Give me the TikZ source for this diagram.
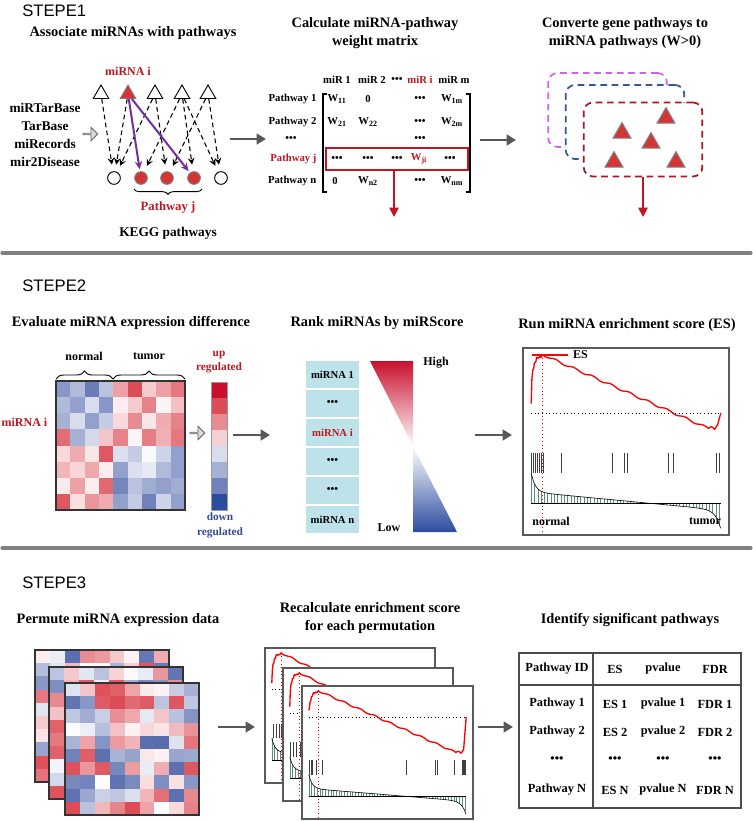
\documentclass[tikz,border=0pt]{standalone}
\usepackage{fontspec}
\setmainfont{Liberation Serif}
\newfontfamily\stepfont{Liberation Sans}
\usetikzlibrary{positioning,arrows.meta,shapes.geometric,shapes.arrows,decorations.pathreplacing}
\definecolor{mred}{RGB}{192,22,34}
\definecolor{mblue}{RGB}{52,74,150}
\definecolor{hmred}{RGB}{214,46,58}
\definecolor{hmblue}{RGB}{58,82,160}
\definecolor{cbtop}{RGB}{200,16,46}
\definecolor{cbbot}{RGB}{44,76,158}
\definecolor{argray}{RGB}{88,88,88}
\definecolor{sepgray}{RGB}{128,128,128}
\definecolor{mpurple}{RGB}{112,48,160}
\definecolor{rankcyan}{RGB}{190,226,233}
\definecolor{hatchgr}{RGB}{92,140,126}
\definecolor{gpurple}{RGB}{206,98,234}
\definecolor{gblue}{RGB}{50,90,140}
\definecolor{gred}{RGB}{176,20,30}
\definecolor{trired}{RGB}{212,52,52}

\newcommand{\ddd}{\textbullet\textbullet\textbullet}
% one heatmap cell: x, y, w, h, value (-100..100)
\newcommand{\hmcell}[5]{%
  \pgfmathtruncatemacro\hmabs{abs(#5)}%
  \ifnum#5<0 \def\hmbase{hmblue}\else\def\hmbase{hmred}\fi
  \fill[fill=\hmbase!\hmabs!white] ({#1},{#2}) rectangle ++({#3},{#4});}
% enrichment plot in a unit box: hits, zero line, lowest point
\newcommand{\esplot}[3]{%
  \draw[hatch] foreach \u in {0.04,0.056,...,0.96} {(\u,0.83) -- (\u,{metr(\u)})};
  \draw[line width=0.5pt] (0.04,0.83) -- (0.96,0.83);
  \draw[line width=0.45pt] plot[domain=0.04:0.96,samples=90] (\x,{metr(\x)});
  \foreach \h in {#1} \draw[black!75,line width=0.6pt] (\h,0.56) -- (\h,0.67);
  \draw[dotted,line width=0.7pt] (0.04,#2) -- (0.96,#2);
  \draw[escurve] (0.04,{#2-0.05}) -- (0.043,0.17) -- (0.047,0.12) -- (0.052,0.11) -- (0.055,0.08)
    -- (0.062,0.075) -- (0.066,0.05) -- (0.075,0.055) -- (0.08,0.045) -- (0.088,0.05) -- (0.095,0.035)
    -- plot[domain=0.095:0.9,samples=70] (\x,{0.035+(\x-0.095)*(#3-0.035)/0.805+0.006*sin(\x*4000)})
    -- (0.915,{#3-0.01}) -- (0.93,{#3+0.005}) -- (0.945,{#3-0.02}) -- (0.96,#2);
  \draw[red,dotted,line width=0.7pt] (0.095,0.035) -- (0.095,0.99);
}

\begin{document}
\begin{tikzpicture}[x=0.75pt,y=-0.75pt,
  font=\fontsize{9}{11}\selectfont\bfseries,
  declare function={metr(\t)=0.77-0.10*exp(-(\t-0.04)*50)+(\t-0.04)*0.105+0.1*exp((\t-0.96)*40);},
  steplab/.style={font=\stepfont\fontsize{12.5}{15}\selectfont,anchor=west,inner sep=0},
  ttl/.style={font=\fontsize{10.8}{13.5}\selectfont\bfseries,align=center},
  sepline/.style={draw=sepgray,line width=2.3pt,line cap=round},
  garrow/.style={draw=argray,line width=2pt,-{Triangle[length=7pt,width=8pt]}},
  rarrow/.style={draw=mred,line width=1.3pt,-{Triangle[length=7pt,width=7pt]}},
  blockarr/.style={single arrow,draw=black!60,fill=black!15,line width=0.6pt,minimum height=11pt,minimum width=10pt,single arrow head extend=2.5pt,inner sep=0},
  mirtri/.style={regular polygon,regular polygon sides=3,draw,line width=0.7pt,fill=white,minimum size=13.5pt,inner sep=0},
  pwcirc/.style={circle,draw,line width=0.7pt,fill=white,minimum size=9.5pt,inner sep=0},
  dasharr/.style={draw,dash pattern=on 3.5pt off 2.5pt,line width=0.8pt,-{Stealth[length=5pt,width=5pt]},shorten >=5pt},
  purarr/.style={draw=mpurple,line width=1.5pt,-{Stealth[length=6pt,width=5.5pt]},shorten >=1.5pt},
  mtx/.style={font=\fontsize{8}{10}\selectfont\bfseries,inner sep=1pt},
  grpbox/.style={dashed,dash pattern=on 5pt off 3.5pt,line width=1.3pt,rounded corners=7pt,fill=white,minimum width=89pt,minimum height=55.5pt},
  redtri/.style={regular polygon,regular polygon sides=3,fill=trired,draw=gray,line width=0.8pt,minimum size=15.5pt,inner sep=0},
  rankcell/.style={fill=rankcyan,draw=white,line width=0.8pt,outer sep=0,minimum width=41pt,minimum height=21.75pt,inner sep=0,font=\fontsize{8}{10}\selectfont\bfseries},
  hatch/.style={draw=hatchgr,line width=0.35pt},
  escurve/.style={draw=red,line width=1pt,line join=round},
  panel/.style={draw=black!65,line width=1.5pt},
  tab/.style={font=\fontsize{9.3}{11}\selectfont\bfseries}]
\useasboundingbox (0,0) rectangle (753,821);

% ---------- STEPE1
\node[steplab] (s1) at (22,11) {STEPE1};
\node[ttl] (ttlA) at (133,33) {Associate miRNAs with pathways};
\node[ttl] (ttlB) at (375,33) {Calculate miRNA-pathway\\weight matrix};
\node[ttl] (ttlC) at (625,33) {Converte gene pathways to\\miRNA pathways (W>0)};

% miRNA -> pathway network
\node[align=center,font=\fontsize{10}{13.5}\selectfont\bfseries] (src) at (45,135) {miRTarBase\\TarBase\\miRecords\\mir2Disease};
\node[blockarr] (ba1) at (90,134) {};
\foreach \x/\i in {101/1,155/3,182/4,208/5}
  \node[mirtri] (mi\i) at (\x,94) {};
\node[mirtri,fill=trired,draw=gray] (mi2) at (128,94) {};
\node[text=mred,above=3pt of mi2] (mirna) {miRNA i};
\foreach \x/\i in {114/1,221/5}
  \node[pwcirc] (pw\i) at (\x,178) {};
\foreach \x/\i in {141/2,167/3,194/4}
  \node[pwcirc,fill=trired,draw=gray] (pw\i) at (\x,178) {};
\foreach \a/\b in {1/1,2/1,3/1,4/2,3/3,5/3,4/4,4/5,5/5}
  \draw[dasharr] (mi\a) -- (pw\b);
\draw[purarr] (mi2) -- (pw2);
\draw[purarr] (mi2) -- (pw4);
\draw[decorate,decoration={brace,mirror,amplitude=4pt},line width=0.7pt] (134,189) -- (202,189);
\node[text=mred,font=\fontsize{9.5}{11}\selectfont\bfseries] (pwj) at (168,207) {Pathway j};
\node[font=\fontsize{10}{12}\selectfont\bfseries] (kegg) at (168,233) {KEGG pathways};

\coordinate (ar1a) at (230,139); \coordinate (ar1b) at (266,139);
\draw[garrow] (ar1a) -- (ar1b);

% weight matrix
\foreach \x/\t [count=\k] in {337/miR 1,372/miR 2,397/\ddd,454/miR m}
  \node[mtx] (hd\k) at (\x,80) {\t};
\node[mtx,text=mred] (hdi) at (420,80) {miR i};
\foreach \y/\t [count=\k] in {99/Pathway 1,122/Pathway 2,181/Pathway n}
  \node[mtx,anchor=east] (rl\k) at (318,\y) {\t};
\node[mtx] (rld) at (291,139) {\ddd};
\node[mtx,anchor=east,text=mred] (rlj) at (318,159) {Pathway j};
\foreach \x/\y/\t [count=\k] in {337/99/W\textsubscript{11},368/99/0,420/99/\ddd,452/99/W\textsubscript{1m},
    337/122/W\textsubscript{21},368/122/W\textsubscript{22},420/122/\ddd,452/122/W\textsubscript{2m},
    420/139/\ddd,337/159/\ddd,368/159/\ddd,397/159/\ddd,450/159/\ddd,
    335/181/0,368/181/W\textsubscript{n2},420/181/\ddd,452/181/W\textsubscript{nm}}
  \node[mtx] (w\k) at (\x,\y) {\t};
\node[mtx,text=mred] (wji) at (419,159) {W\textsubscript{ji}};
\draw[line width=0.9pt] (327,94) -- (323,94) -- (323,192) -- (327,192);
\draw[line width=0.9pt] (466,94) -- (470,94) -- (470,192) -- (466,192);
\node[draw=mred,line width=1.3pt,minimum width=106.5pt,minimum height=16.5pt,inner sep=0] (rowj) at (397,159) {};
\coordinate (rj) at (394,217);
\draw[rarrow] (rowj.south -| rj) -- (rj);

\coordinate (ar2a) at (480,140); \coordinate (ar2b) at (516,140);
\draw[garrow] (ar2a) -- (ar2b);

% miRNA pathways
\node[grpbox,draw=gpurple] (grp1) at (607.5,110) {};
\node[grpbox,draw=gblue] (grp2) at (625,122) {};
\node[grpbox,draw=gred] (grp3) at (643,139.5) {};
\foreach \x/\y [count=\k] in {666/118,622/133,651/143,614/162,676/162}
  \node[redtri] (rt\k) at (\x,\y) {};
\coordinate (g3a) at (643,217);
\draw[rarrow] (grp3.south) -- (g3a);

\draw[sepline] (2,253) -- (751,253);

% ---------- STEPE2
\node[steplab] (s2) at (22,286) {STEPE2};
\node[ttl] (ttlD) at (131,323) {Evaluate miRNA expression difference};
\node[ttl] (ttlE) at (377,323) {Rank miRNAs by miRScore};
\node[ttl] (ttlF) at (627,325) {Run miRNA enrichment score (ES)};

% expression heatmap
\foreach \row [count=\r from 0] in {{-60,-40,-75,-35,45,85,25,45,65},{-40,-55,-20,-60,8,25,60,5,30},
    {-45,-20,-55,-30,18,55,12,40,60},{70,-45,-22,28,60,5,62,38,65},{18,40,12,80,-18,-30,-3,-25,-55},
    {35,20,42,8,-55,-18,-12,-40,-55},{10,45,8,72,-70,-35,-48,-55,-48},{80,15,50,40,-55,-30,-72,-25,-55}}
  \foreach \v [count=\c from 0] in \row
    \hmcell{56+\c*14.33}{381+\r*16.125}{14.33}{16.125}{\v};
\draw[line width=0.9pt,draw=black!80] (56,381) rectangle (185,510);
\draw[decorate,decoration={brace,amplitude=6pt},line width=0.7pt] (56,379) -- (113,379);
\draw[decorate,decoration={brace,amplitude=6pt},line width=0.7pt] (113,379) -- (185,379);
\node (lnorm) at (84,356) {normal};
\node (ltum) at (149,356) {tumor};
\node[text=mred,anchor=east] (hmi) at (52,422) {miRNA i};
\node[blockarr] (ba2) at (197,433) {};
\foreach \cc [count=\k from 0] in {cbtop,hmred!85,hmred!55,hmred!22,hmblue!20,hmblue!45,hmblue!72,cbbot}
  \fill[fill=\cc] (211,{382+\k*16}) rectangle ++(16,16);
\draw[black!40,line width=0.4pt] (211,382) rectangle (227,510);
\node[text=mred,align=center,font=\fontsize{8.5}{11}\selectfont\bfseries] (upr) at (219,362) {up\\regulated};
\node[text=mblue,align=center,font=\fontsize{8.5}{11}\selectfont\bfseries] (dnr) at (220,525) {down\\regulated};

\coordinate (ar3a) at (233,435); \coordinate (ar3b) at (270,435);
\draw[garrow] (ar3a) -- (ar3b);

% ranked list
\node[rankcell] (rk1) at (332.5,374.5) {miRNA 1};
\node[rankcell,below=0pt of rk1] (rk2) {\ddd};
\node[rankcell,below=0pt of rk2,text=mred] (rk3) {miRNA i};
\node[rankcell,below=0pt of rk3] (rk4) {\ddd};
\node[rankcell,below=0pt of rk4] (rk5) {\ddd};
\node[rankcell,below=0pt of rk5] (rk6) {miRNA n};
\shade[top color=cbtop,bottom color=white] (370,361) -- (413,361) -- (413,446) -- cycle;
\shade[top color=white,bottom color=cbbot] (413,446) -- (413,532) -- (457,532) -- cycle;
\node (hig) at (436,363) {High};
\node (low) at (389,528) {Low};

\coordinate (ar4a) at (475,435); \coordinate (ar4b) at (512,435);
\draw[garrow] (ar4a) -- (ar4b);

% enrichment plot
\begin{scope}[shift={(523,348)},xscale=206,yscale=187]
  \fill[white] (0,0) rectangle (1,1);
  \esplot{0.039,0.049,0.058,0.068,0.078,0.087,0.097,0.184,0.432,0.49,0.505,0.704,0.728,0.937,0.951}{0.348}{0.43}
  \draw[red,line width=1.3pt] (0.044,0.037) -- (0.218,0.037) node[right=0pt,text=black] (esl) {ES};
  \draw[panel] (0,0) rectangle (1,1);
\end{scope}
\node (enrm) at (551,521) {normal};
\node (etum) at (705,521) {tumor};

\draw[sepline] (2,548) -- (751,548);

% ---------- STEPE3
\node[steplab] (s3) at (22,583) {STEPE3};
\node[ttl] (ttlG) at (118,620) {Permute miRNA expression data};
\node[ttl] (ttlH) at (370,618) {Recalculate enrichment score\\for each permutation};
\node[ttl] (ttlI) at (630,620) {Identify significant pathways};

% permuted heatmaps
\pgfmathsetseed{11}
\foreach \ox/\oy in {35/650,49/667,65/683} {
  \foreach \r in {0,...,9}
    \foreach \c in {0,...,8} {
      \pgfmathrandominteger{\v}{-85}{85}
      \hmcell{\ox+\c*14.9}{\oy+\r*13.2}{14.9}{13.2}{\v}
    }
  \draw[line width=0.9pt,draw=black!80] (\ox,\oy) rectangle ++(134,132);
}

\coordinate (ar5a) at (218,727); \coordinate (ar5b) at (255,727);
\draw[garrow] (ar5a) -- (ar5b);

% recalculated plots
\begin{scope}[shift={(265,648)},xscale=170,yscale=135]
  \fill[white] (0,0) rectangle (1,1);
  \esplot{0.047,0.065,0.082,0.094,0.3,0.55,0.8}{0.31}{0.55}
  \draw[panel] (0,0) rectangle (1,1);
\end{scope}
\begin{scope}[shift={(283,668)},xscale=170,yscale=133]
  \fill[white] (0,0) rectangle (1,1);
  \esplot{0.041,0.06,0.08,0.1,0.11,0.4,0.7}{0.34}{0.55}
  \draw[panel] (0,0) rectangle (1,1);
\end{scope}
\begin{scope}[shift={(302,686)},xscale=171,yscale=133]
  \fill[white] (0,0) rectangle (1,1);
  \esplot{0.041,0.053,0.058,0.082,0.117,0.608,0.778,0.789,0.889,0.936,0.942,0.947,0.953}{0.233}{0.5}
  \draw[panel] (0,0) rectangle (1,1);
\end{scope}

\coordinate (ar6a) at (478,727); \coordinate (ar6b) at (513,727);
\draw[garrow] (ar6a) -- (ar6b);

% result table
\draw[line width=1.6pt,draw=black!70] (519,653) rectangle (741,808);
\draw[line width=1.6pt,draw=black!70] (593,653) -- (593,808);
\draw[line width=1.6pt,draw=black!70] (519,685) -- (741,685);
\foreach \x/\t [count=\k] in {557/Pathway ID,615/ES,663/pvalue,715/FDR}
  \node[tab] (th\k) at (\x,669) {\t};
\foreach \y/\k [count=\n] in {704/1,732/2,790/N} {
  \node[tab] (tp\n) at (557,\y) {Pathway \k};
  \node[tab] (te\n) at (615,\y) {ES \k};
  \node[tab] (tv\n) at (663,\y) {pvalue \k};
  \node[tab] (tf\n) at (715,\y) {FDR \k};
}
\foreach \x [count=\k] in {557,615,663,715}
  \node[tab] (td\k) at (\x,760) {\ddd};
\end{tikzpicture}
\end{document}
